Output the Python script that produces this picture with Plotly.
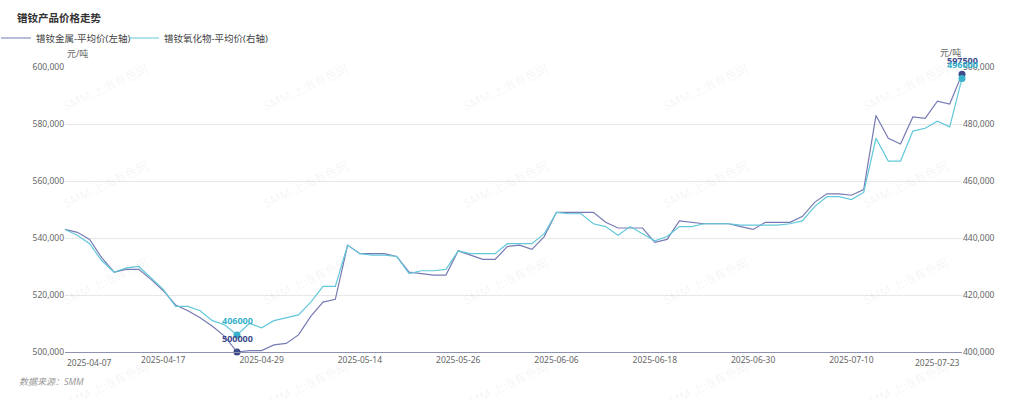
import plotly.graph_objects as go

# ---------------- data ----------------
dates = [
    "2025-04-07", "2025-04-08", "2025-04-09", "2025-04-10", "2025-04-11",
    "2025-04-14", "2025-04-15", "2025-04-16", "2025-04-17", "2025-04-18",
    "2025-04-21", "2025-04-22", "2025-04-23", "2025-04-24", "2025-04-25",
    "2025-04-28", "2025-04-29", "2025-04-30",
    "2025-05-06", "2025-05-07", "2025-05-08", "2025-05-09",
    "2025-05-12", "2025-05-13", "2025-05-14", "2025-05-15", "2025-05-16",
    "2025-05-19", "2025-05-20", "2025-05-21", "2025-05-22", "2025-05-23",
    "2025-05-26", "2025-05-27", "2025-05-28", "2025-05-29", "2025-05-30",
    "2025-06-03", "2025-06-04", "2025-06-05", "2025-06-06",
    "2025-06-09", "2025-06-10", "2025-06-11", "2025-06-12", "2025-06-13",
    "2025-06-16", "2025-06-17", "2025-06-18", "2025-06-19", "2025-06-20",
    "2025-06-23", "2025-06-24", "2025-06-25", "2025-06-26", "2025-06-27",
    "2025-06-30", "2025-07-01", "2025-07-02", "2025-07-03", "2025-07-04",
    "2025-07-07", "2025-07-08", "2025-07-09", "2025-07-10", "2025-07-11",
    "2025-07-14", "2025-07-15", "2025-07-16", "2025-07-17", "2025-07-18",
    "2025-07-21", "2025-07-22", "2025-07-23",
]

metal_price = [
    543000, 542000, 539500, 533000, 528000, 529000, 529000, 525500, 521500, 516500,
    514500, 512000, 509000, 505500, 500000, 500500, 500500, 502500, 503000, 506000,
    512500, 517500, 518500, 537500, 534500, 534500, 534500, 533500, 528000, 527500,
    527000, 527000, 535500, 534000, 532500, 532500, 537000, 537500, 536000, 540500,
    549000, 549000, 549000, 549000, 545500, 543500, 543500, 543500, 538500, 539500,
    546000, 545500, 545000, 545000, 545000, 544000, 543000, 545500, 545500, 545500,
    547500, 552500, 555500, 555500, 555000, 557000, 583000, 575000, 573000, 582500,
    582000, 588000, 587000, 597500,
]

oxide_price = [
    443000, 441000, 438000, 432000, 428000, 429500, 430000, 426000, 422000, 416000,
    416000, 414500, 411000, 409500, 406000, 410000, 408500, 411000, 412000, 413000,
    417500, 423000, 423000, 437500, 434500, 434000, 434000, 433500, 427500, 428500,
    428500, 429000, 435500, 434500, 434500, 434500, 438000, 438000, 438000, 441500,
    449000, 448500, 448500, 445000, 444000, 441000, 444000, 441500, 439000, 440500,
    444000, 444000, 445000, 445000, 445000, 444500, 444500, 444500, 444500, 445000,
    446000, 451000, 454500, 454500, 453500, 456000, 475000, 467000, 467000, 477500,
    478500, 481000, 479000, 496000,
]

left_ticks = [500000, 520000, 540000, 560000, 580000, 600000]
right_ticks = [400000, 420000, 440000, 460000, 480000, 500000]
x_tick_labels = [dates[i] for i in range(8, len(dates) - 8, 8)]

series_names = ["镨钕金属-平均价(左轴)", "镨钕氧化物-平均价(右轴)"]
title_text = "镨钕产品价格走势"
unit_text = "元/吨"
source_text = "数据来源：SMM"
watermark_text = "SMM 上海有色网"

# ---------------- style ----------------
W, H = 1024, 399
L, R, T, B = 65, 62, 67, 47
PW, PH = W - L - R, H - T - B
FONT = "Noto Sans, Noto Sans CJK SC, sans-serif"
DARK_LINE = "#777BB3"
DARK_MARK = "#3E4A8C"
CYAN_LINE = "#62C8DA"
CYAN_MARK = "#38B2CA"
AXIS_TXT = "#666666"
TICK_SIZE = 8.5


def px(xp):
    return (xp - L) / PW


def py(yp):
    return (H - B - yp) / PH


fig = go.Figure()
fig.add_trace(go.Scatter(
    x=dates, y=metal_price, name=series_names[0], mode="lines",
    line=dict(color=DARK_LINE, width=1.2), yaxis="y", legend="legend",
))
fig.add_trace(go.Scatter(
    x=dates, y=oxide_price, name=series_names[1], mode="lines",
    line=dict(color=CYAN_LINE, width=1.2), yaxis="y2", legend="legend2",
))

annotations = []
for vals, axis, mcol in ((metal_price, "y", DARK_MARK), (oxide_price, "y2", CYAN_MARK)):
    idxs = [vals.index(min(vals)), vals.index(max(vals))]
    fig.add_trace(go.Scatter(
        x=[dates[i] for i in idxs], y=[vals[i] for i in idxs], mode="markers",
        marker=dict(color=mcol, size=7), yaxis=axis, showlegend=False,
        hoverinfo="skip", cliponaxis=False,
    ))
    for i in idxs:
        annotations.append(dict(
            x=dates[i], y=vals[i], xref="x", yref=axis, text="<b>%d</b>" % vals[i],
            xanchor="center", yanchor="middle",
            showarrow=False, yshift=14, font=dict(family=FONT, size=9, color=mcol),
        ))

# first / last category labels aligned to the plot edges
annotations.append(dict(x=dates[0], y=0, xref="x", yref="paper", text=dates[0],
                        xanchor="left", yanchor="top", yshift=-3, showarrow=False,
                        font=dict(family=FONT, size=TICK_SIZE, color=AXIS_TXT)))
annotations.append(dict(x=dates[-1], y=0, xref="x", yref="paper", text=dates[-1],
                        xanchor="right", yanchor="top", yshift=-3, showarrow=False,
                        font=dict(family=FONT, size=TICK_SIZE, color=AXIS_TXT)))
# units
annotations.append(dict(x=px(65), y=py(53), xref="paper", yref="paper", text=unit_text,
                        xanchor="left", yanchor="middle",
                        showarrow=False, font=dict(family=FONT, size=9, color=AXIS_TXT)))
annotations.append(dict(x=px(963), y=py(52), xref="paper", yref="paper", text=unit_text,
                        xanchor="right", yanchor="middle",
                        showarrow=False, font=dict(family=FONT, size=9, color=AXIS_TXT)))
# source
annotations.append(dict(x=px(17), y=py(382), xref="paper", yref="paper",
                        text="<i>" + source_text + "</i>", xanchor="left", yanchor="middle",
                        showarrow=False,
                        font=dict(family=FONT, size=9, color="#999999")))
# watermarks
for wy in (87, 184, 281, 385):
    for wx in (105, 305, 505, 705, 905):
        annotations.append(dict(x=px(wx), y=py(wy), xref="paper", yref="paper",
                                text=watermark_text, textangle=-25, showarrow=False,
                                xanchor="center", yanchor="middle",
                                font=dict(family=FONT, size=12, color="rgba(0,0,0,0.06)")))

legend_style = dict(orientation="h", xanchor="left", yanchor="middle", y=py(38),
                    font=dict(family=FONT, size=9.5, color="#444444"),
                    itemwidth=30, bgcolor="rgba(0,0,0,0)")

fig.update_layout(
    width=W, height=H,
    margin=dict(l=L, r=R, t=T, b=B, autoexpand=False),
    paper_bgcolor="white", plot_bgcolor="white",
    font=dict(family=FONT, size=TICK_SIZE, color=AXIS_TXT),
    title=dict(text="<b>" + title_text + "</b>", x=17 / W, xref="container", xanchor="left",
               y=1 - 18 / H, yref="container", yanchor="middle",
               font=dict(family=FONT, size=10.5, color="#333333")),
    legend=dict(x=px(-4), **legend_style),
    legend2=dict(x=px(124), **legend_style),
    xaxis=dict(type="category", range=[0, len(dates) - 1], tickvals=x_tick_labels,
               ticktext=x_tick_labels, showgrid=False, showline=True,
               linecolor="#8E92AE", linewidth=1, ticks="", zeroline=False,
               tickfont=dict(family=FONT, size=TICK_SIZE, color=AXIS_TXT)),
    yaxis=dict(range=[left_ticks[0], left_ticks[-1]], tickvals=left_ticks, tickformat=",",
               showgrid=True, gridcolor="#E8E8E8", zeroline=False, showline=False, ticks="",
               tickfont=dict(family=FONT, size=TICK_SIZE, color=AXIS_TXT)),
    yaxis2=dict(range=[right_ticks[0], right_ticks[-1]], tickvals=right_ticks, tickformat=",",
                overlaying="y", side="right", showgrid=False, zeroline=False,
                showline=False, ticks="",
                tickfont=dict(family=FONT, size=TICK_SIZE, color=AXIS_TXT)),
    annotations=annotations,
    hovermode=False,
)

fig.write_html(
    "out.html",
    config={"displayModeBar": False},
    post_script="document.body.style.margin='0';document.body.style.overflow='hidden';",
)
